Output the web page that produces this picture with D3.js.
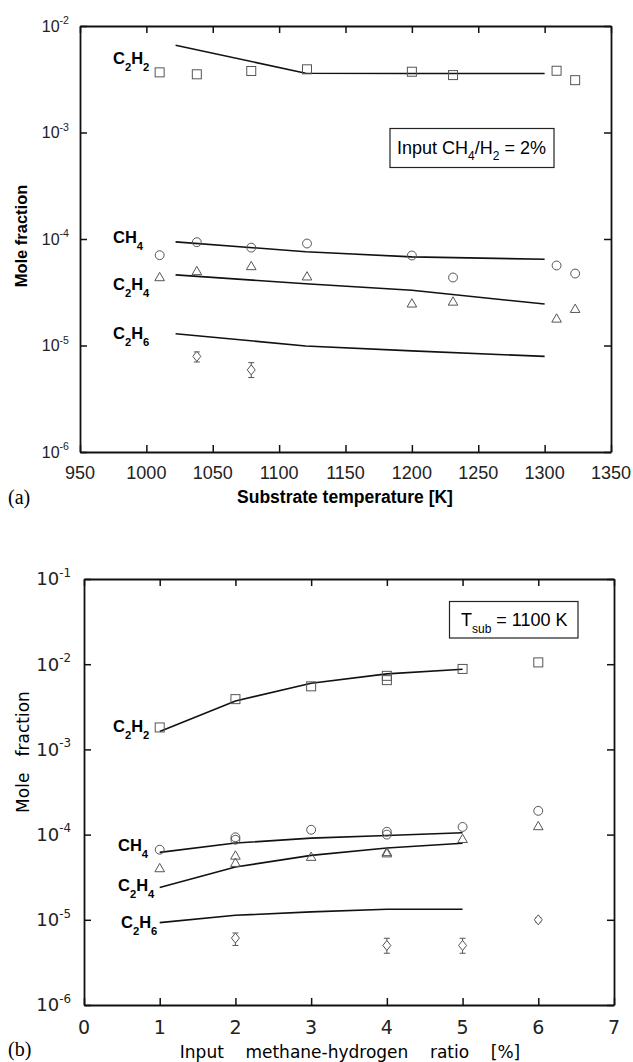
<!DOCTYPE html>
<html>
<head>
<meta charset="utf-8">
<script src="https://cdn.jsdelivr.net/npm/d3@7"></script>
<style>
  body { margin: 0; background: #fff; }
  svg { display: block; }
  .fA { font-family: "Liberation Sans", Arial, sans-serif; }
  .fB { font-family: "DejaVu Sans", sans-serif; }
</style>
</head>
<body>
<svg width="633" height="1062"></svg>
<script>
// **** panel (a) data: substrate temperature ****
var tempA = [1010, 1038, 1079, 1121, 1200, 1231, 1309, 1323];
var c2h2A = [3.67e-3, 3.52e-3, 3.78e-3, 3.92e-3, 3.72e-3, 3.46e-3, 3.80e-3, 3.10e-3];
var ch4A  = [7.05e-5, 9.33e-5, 8.3e-5, 9.07e-5, 7.0e-5, 4.35e-5, 5.64e-5, 4.74e-5];
var c2h4A = [4.31e-5, 4.91e-5, 5.47e-5, 4.38e-5, 2.44e-5, 2.54e-5, 1.76e-5, 2.17e-5];
var tempA6   = [1038, 1079];
var c2h6A    = [7.9e-6, 5.9e-6];
var c2h6ALo  = [7.0e-6, 5.0e-6];
var c2h6AHi  = [8.7e-6, 6.9e-6];

var tempModelA   = [1022, 1120, 1200, 1300];
var c2h2ModelA   = [6.6e-3, 3.6e-3, 3.58e-3, 3.58e-3];
var ch4ModelA    = [9.4e-5, 7.6e-5, 6.8e-5, 6.45e-5];
var c2h4ModelA   = [4.6e-5, 3.8e-5, 3.3e-5, 2.45e-5];
var c2h6ModelA   = [1.29e-5, 9.9e-6, 8.9e-6, 7.9e-6];

var xTicksA = [950, 1000, 1050, 1100, 1150, 1200, 1250, 1300, 1350];
var yTicksA = [1e-6, 1e-5, 1e-4, 1e-3, 1e-2];

// **** panel (b) data: input methane-hydrogen ratio ****
var ratioC2H2 = [1, 2, 3, 4, 4, 5, 6];
var c2h2B     = [1.81e-3, 3.89e-3, 5.5e-3, 7.3e-3, 6.5e-3, 8.8e-3, 1.05e-2];
var ratioCH4  = [1, 2, 2, 3, 4, 4, 5, 6];
var ch4B      = [6.65e-5, 9.3e-5, 8.7e-5, 1.14e-4, 1.08e-4, 1.0e-4, 1.23e-4, 1.9e-4];
var ratioC2H4 = [1, 2, 2, 3, 4, 4, 5, 6];
var c2h4B     = [3.95e-5, 5.55e-5, 4.56e-5, 5.37e-5, 6.1e-5, 5.9e-5, 8.7e-5, 1.23e-4];
var ratioC2H6 = [2, 4, 5, 6];
var c2h6B     = [6.1e-6, 5.0e-6, 5.0e-6, 1.0e-5];
var c2h6BLo   = [5.0e-6, 4.05e-6, 4.05e-6, 9.4e-6];
var c2h6BHi   = [7.0e-6, 6.07e-6, 6.07e-6, 1.06e-5];

var ratioModelB  = [1, 2, 3, 4, 5];
var c2h2ModelB   = [1.62e-3, 3.7e-3, 5.98e-3, 7.7e-3, 8.73e-3];
var ch4ModelB    = [6.18e-5, 7.96e-5, 9.1e-5, 9.77e-5, 1.05e-4];
var c2h4ModelB   = [2.4e-5, 4.17e-5, 5.7e-5, 6.95e-5, 7.9e-5];
var c2h6ModelB   = [9.27e-6, 1.13e-5, 1.24e-5, 1.33e-5, 1.33e-5];

var xTicksB = [0, 1, 2, 3, 4, 5, 6, 7];
var yTicksB = [1e-6, 1e-5, 1e-4, 1e-3, 1e-2, 1e-1];

// **** scales ****
var xA = d3.scaleLinear().domain([950, 1350]).range([80, 611]);
var yA = d3.scaleLog().domain([1e-6, 1e-2]).range([452, 26]);
var xB = d3.scaleLinear().domain([0, 7]).range([84, 614]);
var yB = d3.scaleLog().domain([1e-6, 1e-1]).range([1005, 579]);

var svg = d3.select('svg');
var markColor = '#555';

// **** helpers ****
function frame(x, y, xt, yt, cls) {
    var g = svg.append('g').attr('class', cls);
    var x0 = x.range()[0], x1 = x.range()[1], y0 = y.range()[0], y1 = y.range()[1];
    g.append('g').attr('transform', 'translate(0,' + y0 + ')')
        .call(d3.axisBottom(x).tickValues(xt).tickSize(-7).tickSizeOuter(0).tickFormat(''));
    g.append('g').attr('transform', 'translate(0,' + y1 + ')')
        .call(d3.axisTop(x).tickValues(xt).tickSize(-7).tickSizeOuter(0).tickFormat(''));
    g.append('g').attr('transform', 'translate(' + x0 + ',0)')
        .call(d3.axisLeft(y).tickValues(yt).tickSize(-7).tickSizeOuter(0).tickFormat(''));
    g.append('g').attr('transform', 'translate(' + x1 + ',0)')
        .call(d3.axisRight(y).tickValues(yt).tickSize(-7).tickSizeOuter(0).tickFormat(''));
    g.selectAll('.domain').attr('stroke', '#111').attr('stroke-width', 1.8);
    g.selectAll('.tick line').attr('stroke', '#111').attr('stroke-width', 1.5);
    return g;
}

function subText(x, y, parts, size, weight, cls, anchor) {
    var t = svg.append('text').attr('class', cls)
        .attr('x', x).attr('y', y)
        .attr('font-size', size).attr('font-weight', weight)
        .attr('text-anchor', anchor || 'start')
        .attr('xml:space', 'preserve').style('white-space', 'pre');
    parts.forEach(function (p) {
        var s = t.append('tspan').text(p.t);
        if (p.sub) s.attr('font-size', p.sub).attr('dy', p.dy);
        if (p.back) s.attr('dy', p.back);
    });
    return t;
}

function species(x, y, name, size, cls) {
    // name like ['C','2','H','2']
    var parts = [];
    for (var i = 0; i < name.length; i++) {
        if (/[0-9]/.test(name[i])) {
            parts.push({ t: name[i], sub: size * 0.68, dy: size * 0.42 });
        } else {
            var p = { t: name[i] };
            if (i > 0 && /[0-9]/.test(name[i - 1])) p.back = -size * 0.42;
            parts.push(p);
        }
    }
    return subText(x, y, parts, size, 'bold', cls);
}

function powLabels(y, ticks, xr, size, cls) {
    ticks.forEach(function (v) {
        var e = Math.round(Math.log10(v));
        var t = svg.append('text').attr('class', cls)
            .attr('x', xr).attr('y', y(v) + size * 0.36)
            .attr('font-size', size).attr('text-anchor', 'end').attr('fill', '#222');
        t.append('tspan').text('10');
        t.append('tspan').attr('font-size', size * 0.66).attr('dy', -size * 0.48).text('-' + Math.abs(e));
    });
}

function squares(x, y, xs, vs) {
    svg.append('g').selectAll('rect').data(xs).join('rect')
        .attr('x', function (d) { return x(d) - 4.5; })
        .attr('y', function (d, i) { return y(vs[i]) - 4.5; })
        .attr('width', 9).attr('height', 9)
        .attr('fill', 'none').attr('stroke', markColor).attr('stroke-width', 1);
}
function symbols(x, y, xs, vs, type, size) {
    svg.append('g').selectAll('path').data(xs).join('path')
        .attr('transform', function (d, i) { return 'translate(' + x(d) + ',' + y(vs[i]) + ')'; })
        .attr('d', d3.symbol().type(type).size(size))
        .attr('fill', 'none').attr('stroke', markColor).attr('stroke-width', 1);
}
function diamonds(x, y, xs, vs, lo, hi) {
    var g = svg.append('g');
    g.selectAll('line.err').data(xs).join('line').attr('class', 'err')
        .attr('x1', function (d) { return x(d); }).attr('x2', function (d) { return x(d); })
        .attr('y1', function (d, i) { return y(lo[i]); }).attr('y2', function (d, i) { return y(hi[i]); })
        .attr('stroke', markColor);
    g.selectAll('line.capl').data(xs.concat(xs)).join('line').attr('class', 'capl')
        .attr('x1', function (d) { return x(d) - 3; }).attr('x2', function (d) { return x(d) + 3; })
        .attr('y1', function (d, i) { var k = i % xs.length; return y(i < xs.length ? lo[k] : hi[k]); })
        .attr('y2', function (d, i) { var k = i % xs.length; return y(i < xs.length ? lo[k] : hi[k]); })
        .attr('stroke', markColor);
    g.selectAll('path').data(xs).join('path')
        .attr('transform', function (d, i) { return 'translate(' + x(d) + ',' + y(vs[i]) + ')'; })
        .attr('d', 'M0,-5L4,0L0,5L-4,0Z')
        .attr('fill', '#fff').attr('stroke', markColor).attr('stroke-width', 1);
}
function model(x, y, xs, vs) {
    var line = d3.line().x(function (d) { return x(d[0]); }).y(function (d) { return y(d[1]); });
    svg.append('path').datum(xs.map(function (d, i) { return [d, vs[i]]; }))
        .attr('d', line).attr('fill', 'none').attr('stroke', '#111').attr('stroke-width', 1.6);
}

// **** panel (a) ****
frame(xA, yA, xTicksA, yTicksA, 'fA');
powLabels(yA, yTicksA, 69, 16, 'fA');
svg.append('g').selectAll('text').data(xTicksA).join('text').attr('class', 'fA')
    .attr('x', function (d) { return xA(d); }).attr('y', 479)
    .attr('text-anchor', 'middle').attr('font-size', 18).attr('fill', '#222')
    .text(function (d) { return d; });

model(xA, yA, tempModelA, c2h2ModelA);
model(xA, yA, tempModelA, ch4ModelA);
model(xA, yA, tempModelA, c2h4ModelA);
model(xA, yA, tempModelA, c2h6ModelA);
squares(xA, yA, tempA, c2h2A);
symbols(xA, yA, tempA, ch4A, d3.symbolCircle, 62);
symbols(xA, yA, tempA, c2h4A, d3.symbolTriangle, 40);
diamonds(xA, yA, tempA6, c2h6A, c2h6ALo, c2h6AHi);

species(113, 64, ['C', '2', 'H', '2'], 16.5, 'fA');
species(113, 243, ['C', 'H', '4'], 16.5, 'fA');
species(113, 290, ['C', '2', 'H', '4'], 16.5, 'fA');
species(113, 339, ['C', '2', 'H', '6'], 16.5, 'fA');

svg.append('rect').attr('x', 390).attr('y', 128.5).attr('width', 164).attr('height', 39)
    .attr('fill', 'none').attr('stroke', '#222').attr('stroke-width', 1.2);
subText(397, 154, [
    { t: 'Input CH' }, { t: '4', sub: 12, dy: 6 }, { t: '/H', back: -6 },
    { t: '2', sub: 12, dy: 6 }, { t: ' = 2%', back: -6 }
], 18, 'normal', 'fA');

svg.append('text').attr('class', 'fA').attr('transform', 'translate(27,236) rotate(-90)')
    .attr('text-anchor', 'middle').attr('font-size', 16.5).attr('font-weight', 'bold')
    .text('Mole fraction');
svg.append('text').attr('class', 'fA').attr('x', 345).attr('y', 503)
    .attr('text-anchor', 'middle').attr('font-size', 17.5).attr('font-weight', 'bold')
    .text('Substrate temperature [K]');
svg.append('text').attr('x', 8).attr('y', 504)
    .attr('font-family', '"Liberation Serif", serif').attr('font-size', 20).text('(a)');

// **** panel (b) ****
frame(xB, yB, xTicksB, yTicksB, 'fB');
powLabels(yB, yTicksB, 71, 18, 'fB');
svg.append('g').selectAll('text').data(xTicksB).join('text').attr('class', 'fB')
    .attr('x', function (d) { return xB(d); }).attr('y', 1034)
    .attr('text-anchor', 'middle').attr('font-size', 19).attr('fill', '#222')
    .text(function (d) { return d; });

model(xB, yB, ratioModelB, c2h2ModelB);
model(xB, yB, ratioModelB, ch4ModelB);
model(xB, yB, ratioModelB, c2h4ModelB);
model(xB, yB, ratioModelB, c2h6ModelB);
squares(xB, yB, ratioC2H2, c2h2B);
symbols(xB, yB, ratioCH4, ch4B, d3.symbolCircle, 62);
symbols(xB, yB, ratioC2H4, c2h4B, d3.symbolTriangle, 40);
diamonds(xB, yB, ratioC2H6, c2h6B, c2h6BLo, c2h6BHi);

species(113, 732, ['C', '2', 'H', '2'], 16.5, 'fA');
species(118, 851, ['C', 'H', '4'], 16.5, 'fA');
species(118, 891, ['C', '2', 'H', '4'], 16.5, 'fA');
species(121, 928, ['C', '2', 'H', '6'], 16.5, 'fA');

svg.append('rect').attr('x', 449.5).attr('y', 601.5).attr('width', 128.5).attr('height', 36.5)
    .attr('fill', 'none').attr('stroke', '#222').attr('stroke-width', 1.2);
subText(461, 626, [
    { t: 'T' }, { t: 'sub', sub: 12, dy: 7 }, { t: ' = 1100 K', back: -7 }
], 18, 'normal', 'fA');

svg.append('text').attr('class', 'fB').attr('transform', 'translate(29,752) rotate(-90)')
    .attr('text-anchor', 'middle').attr('font-size', 17)
    .attr('xml:space', 'preserve').style('white-space', 'pre')
    .text('Mole   fraction');
svg.append('text').attr('class', 'fB').attr('x', 350).attr('y', 1058)
    .attr('text-anchor', 'middle').attr('font-size', 17)
    .attr('xml:space', 'preserve').style('white-space', 'pre')
    .text('Input    methane-hydrogen    ratio    [%]');
svg.append('text').attr('x', 8).attr('y', 1056)
    .attr('font-family', '"Liberation Serif", serif').attr('font-size', 20).text('(b)');
</script>
</body>
</html>
